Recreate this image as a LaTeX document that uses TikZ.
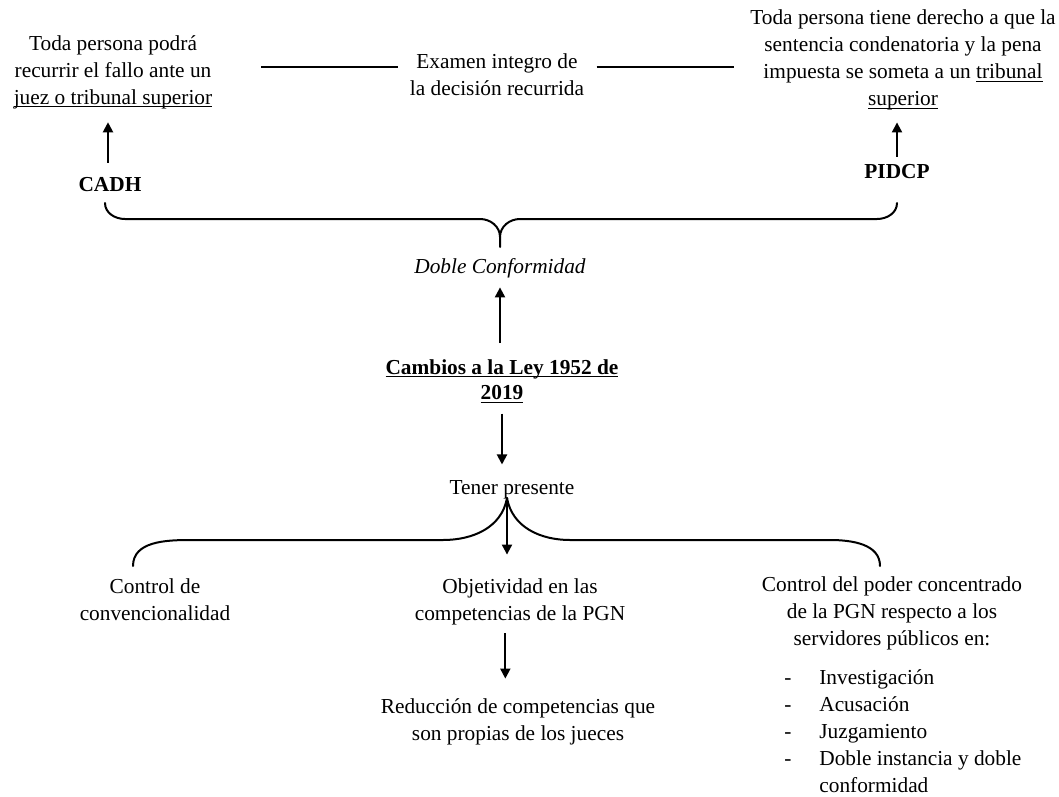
\documentclass[tikz,border=0pt]{standalone}
\usepackage{fontspec}
\setmainfont{Liberation Serif}
\usetikzlibrary{arrows.meta, positioning, calc}

\newcommand{\uln}[1]{\setbox0=\hbox{#1}\rlap{\rule[-2.4pt]{\wd0}{0.8pt}}\box0}

\tikzset{
  txt/.style={inner sep=0pt, align=center, font=\fontsize{16}{20.25}\selectfont},
  arr/.style={-{Triangle[length=7.5pt, width=7.5pt]}, line width=1.5pt},
  brace/.style={line width=1.5pt, line cap=round}
}

\begin{document}
\begin{tikzpicture}[x=0.75pt, y=-0.75pt]
\useasboundingbox (0, 0) rectangle (1059, 796);

% top row
\node[txt] (left) at (113, 72) {Toda persona podrá\\recurrir el fallo ante un\\\uln{juez o tribunal superior}};
\node[txt] (exam) at (497, 75) {Examen integro de\\la decisión recurrida};
\node[txt] (right) at (903, 60) {Toda persona tiene derecho a que la\\sentencia condenatoria y la pena\\impuesta se someta a un \uln{tribunal}\\\uln{superior}};

\draw[line width=1.5pt] ([shift={(-12, -8)}]exam.west) -- ++(-137, 0);
\draw[line width=1.5pt] ([shift={(-12, -8)}]exam.west) ++(199, 0) -- ++(137, 0);

\node[txt, font=\fontsize{16}{20.25}\selectfont\bfseries] (cadh) at (110, 185) {CADH};
\node[txt, font=\fontsize{16}{20.25}\selectfont\bfseries] (pidcp) at (897, 172) {PIDCP};

\draw[arr, shorten <=11pt, shorten >=10pt] ([xshift=-1.5pt]cadh.north) -- ([xshift=-1.5pt]cadh.north |- left.south);
\draw[arr, shorten <=6pt, shorten >=9pt] (pidcp.north) -- (pidcp.north |- right.south);

% upper brace
\coordinate (tip1) at (500, 247);
\draw[brace] (105, 203) to[out=-90, in=180] (125, 219) -- (480, 219) to[out=0, in=90] (500, 237) -- (tip1);
\draw[brace] (897, 203) to[out=-90, in=0] (877, 219) -- (520, 219) to[out=180, in=90] (500, 237);

\node[txt, font=\fontsize{16}{20.25}\selectfont\itshape] (doble) at (500, 268) {Doble Conformidad};

% centre
\node[txt, font=\fontsize{16}{19}\selectfont\bfseries] (cambios) at (502, 381) {\uln{Cambios a la Ley 1952 de}\\\uln{2019}};
\draw[arr, shorten <=12pt, shorten >=7pt] ([xshift=-1.5pt]cambios.north) -- ([xshift=-1.5pt]cambios.north |- doble.south);

\node[txt] (tener) at (512, 490) {Tener presente};
\draw[arr, shorten <=8pt, shorten >=12pt] (cambios.south) -- (cambios.south |- tener.north);

% lower brace
\coordinate (tip2) at (507, 498);
\draw[brace] (133, 566) to[out=90, in=180] (190, 540) -- (443, 540) to[out=0, in=-100] (tip2);
\draw[brace] (880, 566) to[out=90, in=0] (830, 540) -- (570, 540) to[out=180, in=-80] (tip2);

% bottom row
\node[txt] (conv) at (155, 600) {Control de\\convencionalidad};
\node[txt] (obj) at (520, 602) {Objetividad en las\\competencias de la PGN};
\node[txt] (ctrl) at (892, 613) {Control del poder concentrado\\de la PGN respecto a los\\servidores públicos en:};
\node[txt, anchor=north west, align=left] (lista) at (784, 665) {%
  \begin{tabular}{@{}l@{\hspace{21pt}}l@{}}
  - & Investigación\\
  - & Acusación\\
  - & Juzgamiento\\
  - & Doble instancia y doble\\
    & conformidad
  \end{tabular}};

\draw[arr, shorten >=18pt] (tip2) -- (tip2 |- obj.north);

\node[txt] (red) at (518, 722) {Reducción de competencias que\\son propias de los jueces};
\draw[arr, shorten <=6pt, shorten >=15pt] ([xshift=-11pt]obj.south) -- ([xshift=-11pt]obj.south |- red.north);

\end{tikzpicture}
\end{document}
